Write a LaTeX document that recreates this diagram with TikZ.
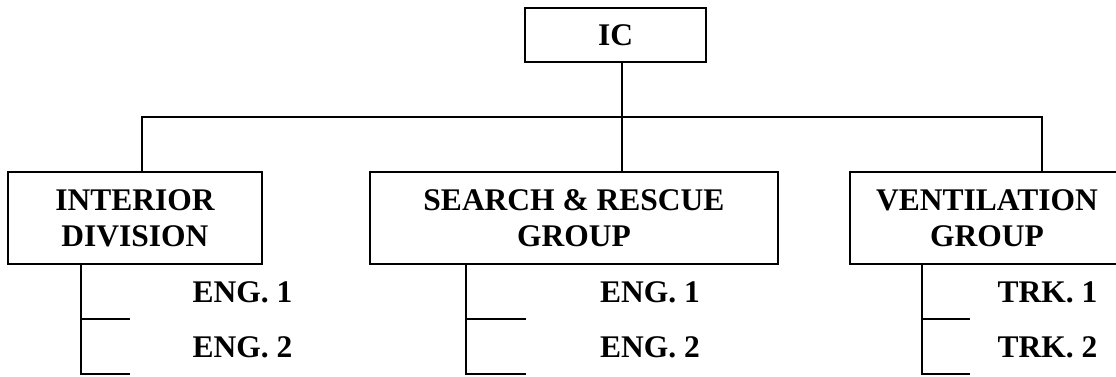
\documentclass[tikz,border=0pt]{standalone}
\usepackage{fontspec}
\setmainfont{Liberation Serif}
\begin{document}
\begin{tikzpicture}[x=1pt,y=-1pt,
  every node/.style={font=\fontsize{31.5}{36}\selectfont\bfseries},
  unitbox/.style={draw,line width=1.3pt,rectangle,align=center,inner sep=0pt,minimum height=92},
  sublabel/.style={anchor=base,inner sep=0pt},
  conn/.style={line width=1.3pt}]
\useasboundingbox (0,0) rectangle (1116,377);
% boxes
\node[unitbox,minimum width=181,minimum height=54] (ic) at (615.5,35) {IC};
\node[unitbox,minimum width=254] (int) at (135,218) {INTERIOR\\DIVISION};
\node[unitbox,minimum width=408] (sar) at (574,218) {SEARCH \& RESCUE\\GROUP};
\node[unitbox,minimum width=274] (ven) at (987,218) {VENTILATION\\GROUP};
% bus coordinates
\coordinate (bl) at (142,117);
\coordinate (bm) at (622,117);
\coordinate (br) at (1042,117);
\draw[conn] (ic.south -| bm) -- (sar.north -| bm);
\draw[conn] (int.north -| bl) |- (br) -- (ven.north -| br);
% sub labels
\node[sublabel] (ie1) at (242.5,302) {ENG. 1};
\node[sublabel] (ie2) at (242.5,357) {ENG. 2};
\node[sublabel] (se1) at (650,302) {ENG. 1};
\node[sublabel] (se2) at (650,357) {ENG. 2};
\node[sublabel] (vt1) at (1047.5,302) {TRK. 1};
\node[sublabel] (vt2) at (1047.5,357) {TRK. 2};
% sub connectors
\coordinate (ia) at (81,319);  \coordinate (ib) at (130,319); \coordinate (ic2) at (130,374);
\draw[conn] (int.south -| ia) |- (ic2);
\draw[conn] (ia) -- (ib);
\coordinate (sa) at (466,319); \coordinate (sb) at (526,319); \coordinate (sc) at (526,374);
\draw[conn] (sar.south -| sa) |- (sc);
\draw[conn] (sa) -- (sb);
\coordinate (va) at (922,319); \coordinate (vb) at (970,319); \coordinate (vc) at (970,374);
\draw[conn] (ven.south -| va) |- (vc);
\draw[conn] (va) -- (vb);
\end{tikzpicture}
\end{document}
